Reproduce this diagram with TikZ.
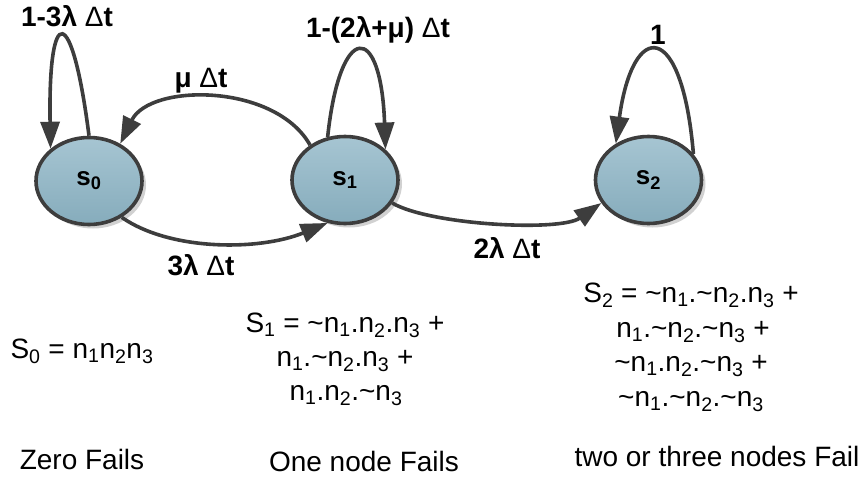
\documentclass[tikz,border=0pt]{standalone}
\usepackage{fontspec}
\setmainfont{Liberation Sans}
\usetikzlibrary{arrows.meta,shapes.geometric,shadows}
\definecolor{edgec}{HTML}{3D3D3D}
\definecolor{filltop}{HTML}{A6C5D2}
\definecolor{fillbot}{HTML}{86ACBC}
\newcommand{\tl}{\textasciitilde}
\newcommand{\sbs}[1]{\textsubscript{#1}}
\begin{document}
\begin{tikzpicture}[x=1pt,y=-1pt,
  state/.style={ellipse, minimum width=106pt, minimum height=87pt, inner sep=0pt,
    draw=edgec, line width=3.6pt, top color=filltop, bottom color=fillbot,
    drop shadow={shadow xshift=4pt, shadow yshift=-4pt, fill=black!18, opacity=1},
    font=\fontsize{26}{30}\selectfont\bfseries},
  edge/.style={draw=edgec, line width=3.6pt,
    -{Triangle[length=27pt,width=19pt]}},
  lbl/.style={anchor=base, inner sep=0pt, font=\fontsize{28}{32}\selectfont\bfseries},
  txt/.style={anchor=base, inner sep=0pt, font=\fontsize{28}{32}\selectfont}]
\useasboundingbox (0,0) rectangle (868,479);

\node[state] (s0) at (89,181) {s\sbs{0}};
\node[state] (s1) at (345,180) {s\sbs{1}};
\node[state] (s2) at (648.5,180) {s\sbs{2}};

\draw[edge] (s0.90) .. controls (72,2) and (48,2) .. (s0.140);
\draw[edge] (s1.112) .. controls (340,21) and (381,21) .. (s1.37);
\draw[edge] (s2.30) .. controls (682,19) and (633,19) .. (s2.132);
\draw[edge] (s1.135) .. controls (275,83) and (150,83) .. (s0.50);
\draw[edge] (s0.-48) .. controls (170,251) and (259,251) .. (s1.-112);
\draw[edge] (s1.-26) .. controls (430,225) and (560,232) .. (s2.206);

\node[lbl] (l0) at (67,27) {1-3λ {\mdseries Δ}t};
\node[lbl] (l1) at (201,87) {μ {\mdseries Δ}t};
\node[lbl] (l2) at (378,37) {1-(2λ+μ) {\mdseries Δ}t};
\node[lbl] (l3) at (658,45) {1};
\node[lbl] (l4) at (201,275) {3λ {\mdseries Δ}t};
\node[lbl] (l5) at (507,258) {2λ {\mdseries Δ}t};

\node[txt] (e0) at (82,358) {S\sbs{0} = n\sbs{1}n\sbs{2}n\sbs{3}};

\node[txt] (e1a) at (345,332) {S\sbs{1} = \tl n\sbs{1}.n\sbs{2}.n\sbs{3} +};
\node[txt] (e1b) at (345,366) {n\sbs{1}.\tl n\sbs{2}.n\sbs{3} +};
\node[txt] (e1c) at (346,400) {n\sbs{1}.n\sbs{2}.\tl n\sbs{3}};

\node[txt] (e2a) at (691,302) {S\sbs{2} = \tl n\sbs{1}.\tl n\sbs{2}.n\sbs{3} +};
\node[txt] (e2b) at (693,337) {n\sbs{1}.\tl n\sbs{2}.\tl n\sbs{3} +};
\node[txt] (e2c) at (691,371) {\tl n\sbs{1}.n\sbs{2}.\tl n\sbs{3} +};
\node[txt] (e2d) at (691,406) {\tl n\sbs{1}.\tl n\sbs{2}.\tl n\sbs{3}};

\node[txt] (f0) at (82,469) {Zero Fails};
\node[txt] (f1) at (364,471) {One node Fails};
\node[txt] (f2) at (717,466) {two or three nodes Fail};
\end{tikzpicture}
\end{document}
